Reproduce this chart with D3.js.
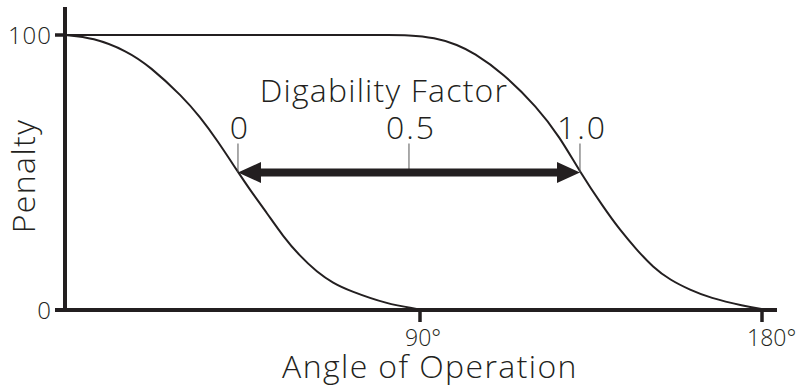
<!DOCTYPE html>
<html>
<head>
<meta charset="utf-8">
<script src="https://cdn.jsdelivr.net/npm/d3@7"></script>
<style>
  html, body { margin: 0; padding: 0; background: #fff; }
  text { font-family: "Open Sans", "DejaVu Sans", sans-serif; font-weight: 300; fill: #231f20; }
</style>
</head>
<body>
<svg id="chart" width="800" height="387"></svg>
<script>
// values (angle in degrees, penalty 0-100)
const angleTicks = [90, 180];
const angleTickLabels = ["90°", "180°"];
const penaltyTicks = [0, 100];

const lowAngle = [-3.4, 3.9, 12.9, 18.9, 27.6, 32.1, 36.6, 42.1, 45.3, 49.7, 53.9, 58.4, 62.9, 67.1, 71.6, 81.3, 89.2, 90.5];
const lowPenalty = [100, 99.1, 94.2, 88.6, 77.5, 70.2, 61.8, 50.2, 43.6, 35.3, 26.9, 19.6, 13.8, 9.8, 6.9, 2.2, 0.4, 0];

const highAngle = [-3.4, 40, 75, 82, 86.6, 93.9, 100, 104, 111.8, 120.8, 126.8, 132.1, 138.2, 142.6, 147.1, 151.3, 155.8, 161.1, 166.3, 175, 181.3];
const highPenalty = [100, 100, 100, 100, 100, 99.1, 96.4, 93.6, 86.2, 73.8, 62.9, 50.2, 37.5, 29.1, 21.8, 15.6, 10.9, 7.3, 4.4, 1.5, 0];

const factorTicks = [0, 0.5, 1.0];
const factorLabels = ["0", "0.5", "1.0"];
const factorAngles = [42.1, 132.1];  // where the arrow meets the curves
const factorPenalty = 50;

const ink = "#231f20";
const svg = d3.select("#chart");

const x = d3.scaleLinear().domain([0, 180]).range([78, 762]);
const y = d3.scaleLinear().domain([0, 100]).range([310, 35]);
const f = d3.scaleLinear().domain([0, 1]).range(factorAngles.map(x));

const x0 = 65;        // y axis sits a little left of 0 deg
const xEnd = 777;

// axes
svg.append("line")
  .attr("x1", x0).attr("x2", x0)
  .attr("y1", 7).attr("y2", y(0) + 1.5)
  .attr("stroke", ink).attr("stroke-width", 4);

svg.append("line")
  .attr("x1", 55).attr("x2", xEnd)
  .attr("y1", y(0)).attr("y2", y(0))
  .attr("stroke", ink).attr("stroke-width", 4);

svg.selectAll(".ytick")
  .data(penaltyTicks)
  .join("line")
  .attr("x1", 55).attr("x2", x0)
  .attr("y1", d => y(d)).attr("y2", d => y(d))
  .attr("stroke", ink).attr("stroke-width", 3.5);

svg.selectAll(".ylab")
  .data(penaltyTicks)
  .join("text")
  .attr("x", 52)
  .attr("y", d => y(d))
  .attr("dy", "0.36em")
  .attr("text-anchor", "end")
  .attr("font-size", 24)
  .attr("letter-spacing", 1)
  .text(d => d);

svg.selectAll(".xtick")
  .data(angleTicks)
  .join("line")
  .attr("x1", d => x(d)).attr("x2", d => x(d))
  .attr("y1", y(0)).attr("y2", y(0) + 12)
  .attr("stroke", ink).attr("stroke-width", 3.5);

svg.selectAll(".xlab")
  .data(angleTicks)
  .join("text")
  .attr("x", d => x(d) - 15)
  .attr("y", 346)
  .attr("font-size", 23)
  .text((d, i) => angleTickLabels[i]);

// axis titles
svg.append("text")
  .attr("x", 430).attr("y", 378)
  .attr("text-anchor", "middle")
  .attr("font-size", 32)
  .attr("letter-spacing", 1.4)
  .text("Angle of Operation");

svg.append("text")
  .attr("transform", "translate(35,176) rotate(-90)")
  .attr("text-anchor", "middle")
  .attr("font-size", 32)
  .attr("letter-spacing", 1.4)
  .text("Penalty");

// curves
const line = d3.line()
  .x(d => x(d[0]))
  .y(d => y(d[1]))
  .curve(d3.curveBasis);

[[lowAngle, lowPenalty], [highAngle, highPenalty]].forEach(([a, p]) => {
  svg.append("path")
    .datum(d3.zip(a, p))
    .attr("fill", "none")
    .attr("stroke", ink)
    .attr("stroke-width", 2)
    .attr("d", line);
});

// digability factor scale + double arrow
const ay = y(factorPenalty);

svg.selectAll(".ftick")
  .data(factorTicks)
  .join("line")
  .attr("x1", d => f(d)).attr("x2", d => f(d))
  .attr("y1", ay - 29).attr("y2", ay)
  .attr("stroke", "#555").attr("stroke-width", 1);

svg.selectAll(".flab")
  .data(factorTicks)
  .join("text")
  .attr("x", d => f(d) + 2)
  .attr("y", ay - 34)
  .attr("text-anchor", "middle")
  .attr("font-size", 32)
  .attr("letter-spacing", 2)
  .text((d, i) => factorLabels[i]);

svg.append("text")
  .attr("x", 384).attr("y", 102)
  .attr("text-anchor", "middle")
  .attr("font-size", 32)
  .attr("letter-spacing", 1.2)
  .text("Digability Factor");

const xa = f(0), xb = f(1), head = 23, half = 10.5;
svg.append("line")
  .attr("x1", xa + head - 2).attr("x2", xb - head + 2)
  .attr("y1", ay).attr("y2", ay)
  .attr("stroke", ink).attr("stroke-width", 8);

svg.append("path")
  .attr("fill", ink)
  .attr("d", `M${xa},${ay} L${xa + head},${ay - half} L${xa + head},${ay + half} Z`);

svg.append("path")
  .attr("fill", ink)
  .attr("d", `M${xb},${ay} L${xb - head},${ay - half} L${xb - head},${ay + half} Z`);
</script>
</body>
</html>
